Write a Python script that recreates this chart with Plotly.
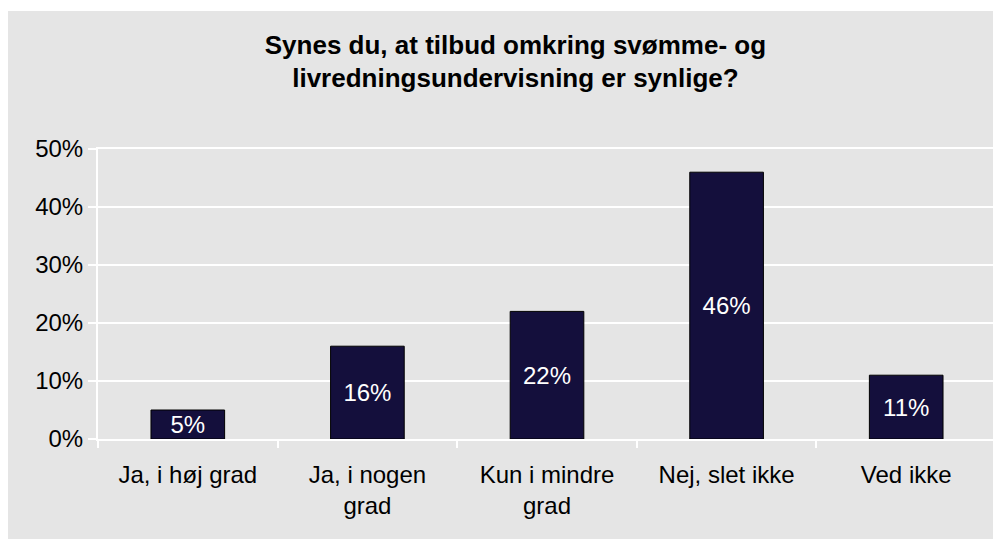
import plotly.graph_objects as go

# chart data
categories = ["Ja, i høj grad", "Ja, i nogen<br>grad", "Kun i mindre<br>grad", "Nej, slet ikke", "Ved ikke"]
shares = [0.05, 0.16, 0.22, 0.46, 0.11]
labels = ["5%", "16%", "22%", "46%", "11%"]
y_ticks = [0, 0.1, 0.2, 0.3, 0.4, 0.5]
y_tick_labels = ["0%", "10%", "20%", "30%", "40%", "50%"]

title_text = "Synes du, at tilbud omkring svømme- og<br>livredningsundervisning er synlige?"

font_family = "Liberation Sans, Arial, sans-serif"
bg_gray = "#e5e5e5"

fig = go.Figure()

fig.add_trace(go.Bar(
    x=categories,
    y=shares,
    text=labels,
    textposition='inside',
    insidetextanchor='middle',
    constraintext='none',
    textfont=dict(color='white', size=24, family=font_family),
    marker=dict(color='#140f3c', line=dict(color='black', width=1)),
    hoverinfo='skip'
))

# gray chart area, leaving a thin white strip at the top
fig.add_shape(
    type='rect', xref='paper', yref='paper',
    x0=-0.11, x1=1.02, y0=-0.4, y1=1.476,
    fillcolor=bg_gray, line=dict(width=0), layer='below'
)

fig.update_layout(
    width=993,
    height=531,
    margin=dict(l=90, r=3, t=141, b=100),
    paper_bgcolor='white',
    plot_bgcolor=bg_gray,
    showlegend=False,
    bargap=0.59,
    font=dict(family=font_family, color='black', size=24),
    title=dict(
        text=title_text,
        x=0.511, xanchor='center',
        y=0.914, yanchor='top',
        font=dict(size=26, family=font_family, color='black', weight='bold')
    ),
    xaxis=dict(
        showline=True, linecolor='white', linewidth=2, mirror=True,
        ticks='outside', tickcolor='white', ticklen=7, tickwidth=2,
        tickson='boundaries', showgrid=False,
        tickfont=dict(size=24),
        ticklabelstandoff=13
    ),
    yaxis=dict(
        range=[0, 0.5],
        tickvals=y_ticks, ticktext=y_tick_labels,
        showline=True, linecolor='white', linewidth=2, mirror=True,
        ticks='outside', tickcolor='white', ticklen=8, tickwidth=2,
        gridcolor='white', gridwidth=2,
        zeroline=False,
        tickfont=dict(size=24)
    )
)

fig.write_html("out.html")
